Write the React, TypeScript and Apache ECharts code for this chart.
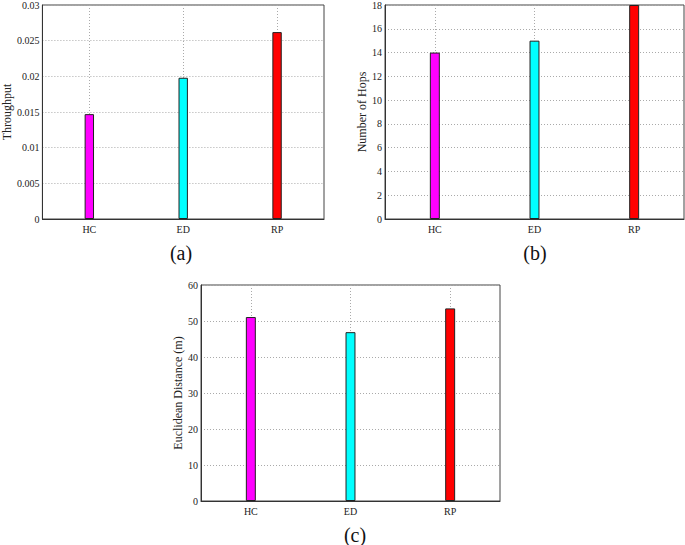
import React, { useEffect, useRef } from "react";
import * as echarts from "echarts";

const categories = ["HC", "ED", "RP"];
const throughput = [0.0147, 0.0198, 0.0262];
const hops = [14, 15, 18];
const distance = [51.1, 46.9, 53.5];
const barColors = ["#ff00ff", "#00ffff", "#ff0000"];
const captions = ["(a)", "(b)", "(c)"];

const FONT = "Liberation Serif";

type Panel = {
  values: number[];
  max: number;
  interval: number;
  name: string;
  nameGap: number;
  grid: { left: number; top: number; width: number; height: number };
};

const panels: Panel[] = [
  { values: throughput, max: 0.03, interval: 0.005, name: "Throughput", nameGap: 26, grid: { left: 38, top: 3, width: 286, height: 216 } },
  { values: hops, max: 18, interval: 2, name: "Number of Hops", nameGap: 16, grid: { left: 385, top: 3, width: 299, height: 216 } },
  { values: distance, max: 60, interval: 10, name: "Euclidean Distance (m)", nameGap: 15, grid: { left: 201, top: 285, width: 299, height: 216 } },
];

const captionPos = [
  { x: 181, y: 253 },
  { x: 535, y: 253 },
  { x: 355, y: 535 },
];

export default function App() {
  const ref = useRef<HTMLDivElement>(null);
  useEffect(() => {
    if (!ref.current) return;
    const chart = echarts.init(ref.current, null, { renderer: "svg" });
    const grid: any[] = [];
    const xAxis: any[] = [];
    const yAxis: any[] = [];
    const series: any[] = [];
    panels.forEach((p, i) => {
      grid.push({ ...p.grid, show: true, borderColor: "#444", borderWidth: 1, backgroundColor: "#fff" });
      xAxis.push({
        type: "category",
        gridIndex: i,
        data: categories,
        boundaryGap: true,
        axisLine: { show: true, lineStyle: { color: "#333", width: 1 } },
        axisTick: { show: false },
        axisLabel: { color: "#222", fontFamily: FONT, fontSize: 10, margin: 5 },
        splitLine: { show: false },
      });
      xAxis.push({
        type: "category",
        gridIndex: i,
        position: "top",
        data: ["", "", "", "", "", "", ""],
        boundaryGap: false,
        axisLine: { show: false },
        axisTick: { show: false },
        axisLabel: { show: false },
        splitLine: {
          show: true,
          interval: (idx: number) => idx % 2 === 1,
          lineStyle: { color: "#aaa", type: [1, 2], width: 1 },
        },
      });
      yAxis.push({
        type: "value",
        gridIndex: i,
        min: 0,
        max: p.max,
        interval: p.interval,
        name: p.name,
        nameLocation: "middle",
        nameGap: p.nameGap,
        nameTextStyle: { color: "#222", fontFamily: FONT, fontSize: 12 },
        axisLine: { show: true, lineStyle: { color: "#333", width: 1 } },
        axisTick: { show: false },
        axisLabel: { color: "#222", fontFamily: FONT, fontSize: 10, margin: 3 },
        splitLine: { show: true, lineStyle: { color: "#aaa", type: [1, 2], width: 1 } },
      });
      series.push({
        type: "bar",
        xAxisIndex: i * 2,
        yAxisIndex: i,
        barWidth: "10%",
        data: p.values.map((v, k) => ({
          value: v,
          itemStyle: { color: barColors[k], borderColor: "#222", borderWidth: 1 },
        })),
      });
    });
    chart.setOption({
      animation: false,
      backgroundColor: "#fff",
      grid,
      xAxis,
      yAxis,
      series,
      graphic: captions.map((c, i) => ({
        type: "text",
        x: captionPos[i].x,
        y: captionPos[i].y,
        style: {
          text: c,
          fill: "#111",
          font: `20px "${FONT}"`,
          textAlign: "center",
          textVerticalAlign: "middle",
        },
      })),
    });
    return () => chart.dispose();
  }, []);
  return (
    <div
      ref={ref}
      style={{ position: "fixed", left: 0, top: 0, width: 685, height: 545, background: "#fff" }}
    />
  );
}
